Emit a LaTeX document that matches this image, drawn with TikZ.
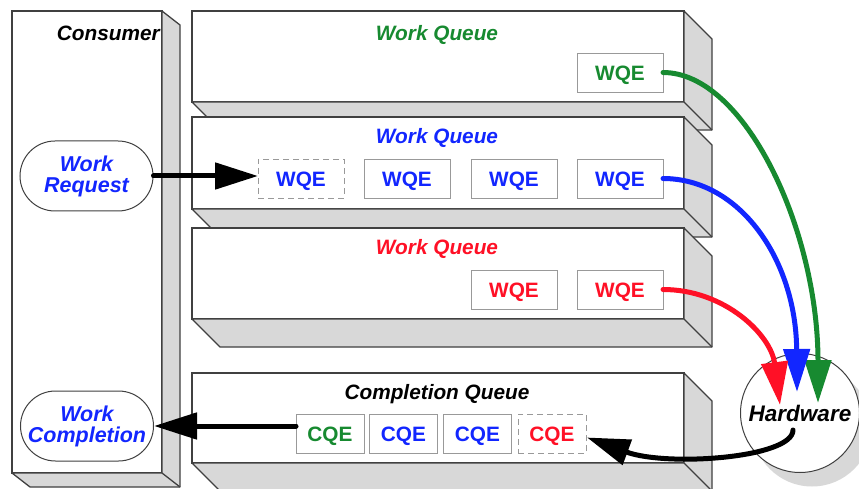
\documentclass[tikz,border=0pt]{standalone}
\usepackage{fontspec}
\setmainfont{Liberation Sans}
\usetikzlibrary{arrows.meta,shapes.misc,calc}
\definecolor{qgreen}{HTML}{178A30}
\definecolor{qblue}{HTML}{1226FF}
\definecolor{qred}{HTML}{FF1026}
\definecolor{slabgray}{HTML}{D8D8D8}
\definecolor{edgegray}{HTML}{404040}
\definecolor{cellgray}{HTML}{999999}
\newcommand\qtitlefont{\fontsize{20.8}{24}\selectfont\bfseries\itshape}
\newcommand\qcellfont{\fontsize{20.8}{24}\selectfont\bfseries}
\newcommand\qpillfont{\fontsize{21.5}{21}\selectfont\bfseries\itshape}
\newcommand\qhwfont{\fontsize{22.5}{24}\selectfont\bfseries\itshape}
\newcommand\qextrude[3]{%
  \filldraw[fill=slabgray, draw=edgegray, line width=1.3pt, line join=round]
    (#1.north east) -- ++(#2,#3) -- ($(#1.south east)+(#2,#3)$) -- ($(#1.south west)+(#2,#3)$)
    -- (#1.south west) -- (#1.south east) -- cycle;
  \draw[edgegray, line width=1.3pt] (#1.south east) -- ++(#2,#3);
}
\begin{document}
\begin{tikzpicture}[x=1pt,y=-1pt,
  face/.style={draw=edgegray, line width=1.3pt, fill=white, rectangle, anchor=north west,
    inner sep=0pt, outer sep=0pt},
  cell/.style={draw=cellgray, line width=0.9pt, fill=white, minimum width=86pt,
    minimum height=39pt, inner sep=0pt, outer sep=0pt, font=\qcellfont,
    text height=15.2pt, text depth=0pt},
  dcell/.style={cell, dash pattern=on 6pt off 4pt},
  ccell/.style={cell, minimum width=68pt},
  qtitle/.style={font=\qtitlefont, inner sep=0pt, text height=15.2pt, text depth=0pt},
  pill/.style={rounded rectangle, draw=edgegray, line width=1pt, fill=white,
    minimum width=133pt, minimum height=70pt, align=center, inner sep=0pt,
    font=\qpillfont, text=qblue},
  flow/.style={line width=5pt, line cap=round, -{Triangle[length=43pt,width=26pt]}},
]
\useasboundingbox (0,0) rectangle (859,489);
\fill[white] (0,0) rectangle (859,489);

% Consumer
\node[face, minimum width=150pt, minimum height=462pt] (cons) at (12,11) {};
\qextrude{cons}{18}{14}
\node[qtitle, anchor=east] (constitle) at (160,33) {Consumer};
\node[pill] (wr) at (86.5,176) {Work\\Request};
\node[pill] (wc) at (87,426) {Work\\Completion};

% Work queue 1 (green)
\node[face, minimum width=492pt, minimum height=91pt] (wq1) at (192,11) {};
\qextrude{wq1}{28}{28}
\node[qtitle, text=qgreen] (wq1t) at (437,33) {Work Queue};
\node[cell, text=qgreen] (w1a) at (620,72.5) {WQE};

% Work queue 2 (blue)
\node[face, minimum width=492pt, minimum height=92pt] (wq2) at (192,117) {};
\qextrude{wq2}{28}{28}
\node[qtitle, text=qblue] (wq2t) at (437,136) {Work Queue};
\node[dcell, text=qblue] (w2a) at (301,178.5) {WQE};
\node[cell, text=qblue] (w2b) at (407,178.5) {WQE};
\node[cell, text=qblue] (w2c) at (514,178.5) {WQE};
\node[cell, text=qblue] (w2d) at (620,178.5) {WQE};

% Work queue 3 (red)
\node[face, minimum width=492pt, minimum height=91pt] (wq3) at (192,228) {};
\qextrude{wq3}{28}{28}
\node[qtitle, text=qred] (wq3t) at (437,247) {Work Queue};
\node[cell, text=qred] (w3a) at (514,289.5) {WQE};
\node[cell, text=qred] (w3b) at (620,289.5) {WQE};

% Completion queue
\node[face, minimum width=492pt, minimum height=90pt] (cq) at (192,373) {};
\qextrude{cq}{28}{28}
\node[qtitle] (cqt) at (437,392) {Completion Queue};
\node[ccell, text=qgreen] (c1) at (330,433.5) {CQE};
\node[ccell, text=qblue] (c2) at (403.5,433.5) {CQE};
\node[ccell, text=qblue] (c3) at (477.5,433.5) {CQE};
\node[ccell, dash pattern=on 6pt off 4pt, text=qred] (c4) at (552,433.5) {CQE};

% Hardware
\fill[slabgray] (812,427) circle (59.5pt);
\node[circle, draw=edgegray, line width=1pt, fill=white, minimum size=119pt, inner sep=0pt,
  font=\qhwfont] (hw) at (800,413) {Hardware};

\coordinate (hr) at ($(hw.center)+(-20,-8)$);
\coordinate (hb) at ($(hw.center)+(-3,-21)$);
\coordinate (hg) at ($(hw.center)+(18,-10)$);
\coordinate (hout) at ($(hw.center)+(-7,17)$);
\coordinate (cqin) at ($(c4.east)+(1,4)$);

% Arrows
\draw[flow] (wr.east) -- (wr.east -| w2a.west);
\draw[flow] (c1.west |- wc.east) -- (wc.east);
\draw[flow, qgreen] (w1a.east) .. controls (745,72.5) and (818,230) .. (hg);
\draw[flow, qblue] (w2d.east) .. controls (740,178.5) and (796,260) .. (hb);
\draw[flow, qred] (w3b.east) .. controls (725,289.5) and (771,335) .. (hr);
\draw[flow] (hout) .. controls (793,458) and (667,467) .. (cqin);
\end{tikzpicture}
\end{document}
